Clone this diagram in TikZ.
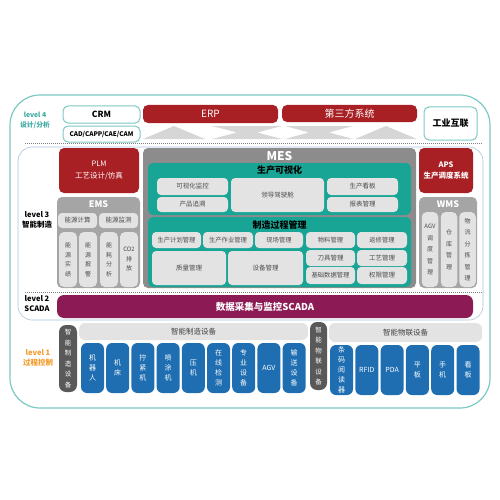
\documentclass[tikz,border=0pt]{standalone}
\usepackage{fontspec}
\setmainfont{Noto Sans CJK SC}
\usetikzlibrary{positioning}

\definecolor{frameteal}{HTML}{7CC8C3}
\definecolor{lvlteal}{HTML}{3AA9A0}
\definecolor{frameblue}{HTML}{A9C3DB}
\definecolor{erpred}{HTML}{A81F24}
\definecolor{mesgray}{HTML}{8C8C8C}
\definecolor{emsgray}{HTML}{A5A5A5}
\definecolor{pillgray}{HTML}{E3E3E3}
\definecolor{visteal}{HTML}{18A595}
\definecolor{scadapurple}{HTML}{8C1A55}
\definecolor{devblue}{HTML}{1E6EB1}
\definecolor{darkpill}{HTML}{595959}
\definecolor{lvlorange}{HTML}{F39A2B}
\definecolor{trigray}{HTML}{D6D6D6}

\begin{document}
\begin{tikzpicture}[x=1pt, y=-1pt,
    box/.style={rounded corners=5pt, inner sep=0pt, outer sep=0pt, align=center},
    tealbox/.style={box, draw=frameteal, line width=1pt, fill=white, font=\bfseries\fontsize{8.5}{9}\selectfont},
    redbox/.style={box, fill=erpred, text=white, font=\fontsize{9}{10}\selectfont},
    graybox/.style={box, fill=emsgray},
    title/.style={inner sep=0pt, text=white, font=\bfseries\fontsize{9}{10}\selectfont},
    subtitle/.style={inner sep=0pt, text=black, font=\bfseries\fontsize{9}{10}\selectfont},
    item/.style={box, rounded corners=4pt, fill=pillgray, text=black!70, font=\fontsize{6.5}{7}\selectfont},
    vitem/.style={item, rounded corners=5pt, font=\fontsize{6}{9.5}\selectfont},
    dev/.style={box, rounded corners=6pt, fill=devblue, text=white, font=\fontsize{7}{10}\selectfont},
    darkdev/.style={box, rounded corners=7pt, fill=darkpill, text=white, font=\fontsize{6.5}{10.5}\selectfont},
    header/.style={box, rounded corners=6pt, fill=pillgray, text=black!75, font=\fontsize{7.5}{8}\selectfont},
    level/.style={inner sep=0pt, align=center, font=\bfseries\fontsize{7.5}{10}\selectfont}
  ]
  \useasboundingbox (0,0) rectangle (500,500);

  % frames
  \draw [frameteal, line width=1.2pt, rounded corners=30pt] (10,95) rectangle (490,408);
  \draw [frameblue, line width=0.6pt, rounded corners=14pt] (18,147) rectangle (483,320);
  \draw [gray, line width=1pt, dash pattern=on 1pt off 1pt] (25,143.5) -- (483,143.5);
  \draw [gray, line width=1pt, dash pattern=on 1pt off 1pt] (25,292) -- (483,292);

  % level 4
  \node [level, text=lvlteal, font=\bfseries\fontsize{6.8}{10}\selectfont] (lvlfour) at (35,120) {level 4\\设计/分析};
  \node [tealbox, minimum width=77pt, minimum height=17pt] (crm) at (101.5,114.5) {CRM};
  \node [tealbox, minimum width=77pt, minimum height=16pt, font=\bfseries\fontsize{6.4}{7}\selectfont] (cad) at (101.5,134) {CAD/CAPP/CAE/CAM};
  \node [redbox, minimum width=135pt, minimum height=18pt, font=\fontsize{10}{11}\selectfont] (erp) at (210.5,114) {ERP};
  \node [redbox, minimum width=135pt, minimum height=17pt, font=\fontsize{10}{11}\selectfont] (third) at (349.5,113.5) {第三方系统};
  \node [tealbox, minimum width=53pt, minimum height=33pt, font=\bfseries\fontsize{9}{10}\selectfont] (iiot) at (450.5,123.5) {工业互联};

  \fill [trigray] (143,139) -- (174,126) -- (205,139) -- cycle;
  \fill [trigray] (212,126) -- (282,126) -- (257,132.5) -- (282,139) -- (212,139) -- (237,132.5) -- cycle;
  \fill [trigray] (285,126) -- (353,126) -- (329,132.5) -- (353,139) -- (285,139) -- (309,132.5) -- cycle;
  \fill [trigray] (355,139) -- (386,126) -- (417,139) -- cycle;

  % level 3
  \node [level] (lvlthree) at (37,220) {level 3\\智能制造};
  \node [redbox, minimum width=80pt, minimum height=45pt, font=\fontsize{7.5}{12}\selectfont] (plm) at (99,170.5) {PLM\\工艺设计/仿真};
  \node [graybox, minimum width=83pt, minimum height=91pt] (ems) at (98.5,242.5) {};
  \node [title] (emstitle) at (98.5,204.5) {EMS};
  \node [item, minimum width=39pt, minimum height=15pt] (energycalc) at (77.5,220.5) {能源计算};
  \node [item, minimum width=39pt, minimum height=15pt] (energymon) at (118.5,220.5) {能源监测};
  \foreach \t [count=\i] / \x in {{能\\源\\实\\绩}/68, {能\\源\\报\\警}/88, {能\\耗\\分\\析}/109, {CO2\\排\\放}/129}
    \node [vitem, minimum width=18pt, minimum height=55pt] (ems\i) at (\x,259.5) {\t};

  \node [box, fill=mesgray, minimum width=273pt, minimum height=140pt] (mes) at (279.5,218) {};
  \node [title, font=\bfseries\fontsize{12}{13}\selectfont] (mestitle) at (279.5,156) {MES};
  \node [box, fill=visteal, minimum width=263pt, minimum height=52pt] (vis) at (279.5,189) {};
  \node [subtitle] (vistitle) at (279.5,170) {生产可视化};
  \node [item, minimum width=71pt, minimum height=17pt] (vismon) at (192.5,186.5) {可视化监控};
  \node [item, minimum width=71pt, minimum height=15pt] (trace) at (192.5,204.5) {产品追溯};
  \node [item, minimum width=93pt, minimum height=34pt] (cockpit) at (277.5,195) {领导驾驶舱};
  \node [item, minimum width=71pt, minimum height=17pt] (board) at (362.5,186.5) {生产看板};
  \node [item, minimum width=71pt, minimum height=15pt] (report) at (362.5,204.5) {报表管理};

  \node [box, fill=visteal, minimum width=263pt, minimum height=70pt] (mfg) at (279.5,252) {};
  \node [subtitle] (mfgtitle) at (279.5,225) {制造过程管理};
  \foreach \t [count=\i] / \x / \w in {生产计划管理/176.5/49, 生产作业管理/228/50, 现场管理/279/48, 物料管理/330.5/49, 返修管理/382/50}
    \node [item, minimum width=\w pt, minimum height=16pt, font=\fontsize{6.3}{7}\selectfont] (mfg\i) at (\x,240) {\t};
  \node [item, minimum width=74pt, minimum height=34pt] (quality) at (189,268) {质量管理};
  \node [item, minimum width=75pt, minimum height=34pt] (equip) at (265.5,268) {设备管理};
  \node [item, minimum width=49pt, minimum height=16pt] (tool) at (330.5,258) {刀具管理};
  \node [item, minimum width=50pt, minimum height=16pt] (process) at (382,258) {工艺管理};
  \node [item, minimum width=49pt, minimum height=17pt, font=\fontsize{6.3}{7}\selectfont] (basedata) at (330.5,275.5) {基础数据管理};
  \node [item, minimum width=50pt, minimum height=17pt] (rights) at (382,275.5) {权限管理};

  \node [redbox, minimum width=54pt, minimum height=45pt, font=\bfseries\fontsize{7.5}{11}\selectfont] (aps) at (446,170.5) {APS\\生产调度系统};
  \node [graybox, minimum width=58pt, minimum height=91pt] (wms) at (448,242.5) {};
  \node [title] (wmstitle) at (448,204.5) {WMS};
  \foreach \t [count=\i] / \x in {{AGV\\调\\度\\管\\理}/430, {仓\\库\\管\\理}/449, {物\\流\\分\\拣\\管\\理}/467.5}
    \node [vitem, minimum width=16.5pt, minimum height=75pt, font=\fontsize{6}{11.5}\selectfont] (wms\i) at (\x,249.5) {\t};

  % level 2
  \node [level] (lvltwo) at (37,303.5) {level 2\\SCADA};
  \node [box, rounded corners=7pt, fill=scadapurple, text=white, minimum width=416pt, minimum height=23pt, font=\bfseries\fontsize{9.5}{10}\selectfont] (scada) at (265,306.5) {数据采集与监控SCADA};

  % level 1
  \node [level, text=lvlorange] (lvlone) at (38,358) {level 1\\过程控制};
  \node [darkdev, minimum width=18pt, minimum height=67pt] (mfgdev) at (68,358.5) {智\\能\\制\\造\\设\\备};
  \node [header, minimum width=229pt, minimum height=17pt] (mfghead) at (193.5,331.5) {智能制造设备};
  \foreach \t [count=\i from 0] in {{机\\器\\人}, {机\\床}, {拧\\紧\\机}, {喷\\涂\\机}, {压\\机}, {在\\线\\检\\测}, {专\\业\\设\\备}, AGV, {输\\送\\设\\备}}
    \node [dev, minimum width=23pt, minimum height=50pt] (dev\i) at (92.5+25.2*\i,368) {\t};

  \node [darkdev, minimum width=17pt, minimum height=68pt] (iotdev) at (318.5,356) {智\\能\\物\\联\\设\\备};
  \node [header, minimum width=153pt, minimum height=19pt] (iothead) at (405.5,332.5) {智能物联设备};
  \foreach \t [count=\i from 0] in {{条\\码\\阅\\读\\器}, RFID, PDA, {平\\板}, {手\\机}, {看\\板}}
    \node [dev, minimum width=23pt, minimum height=50pt] (iot\i) at (341.5+25.3*\i,370) {\t};
\end{tikzpicture}
\end{document}
